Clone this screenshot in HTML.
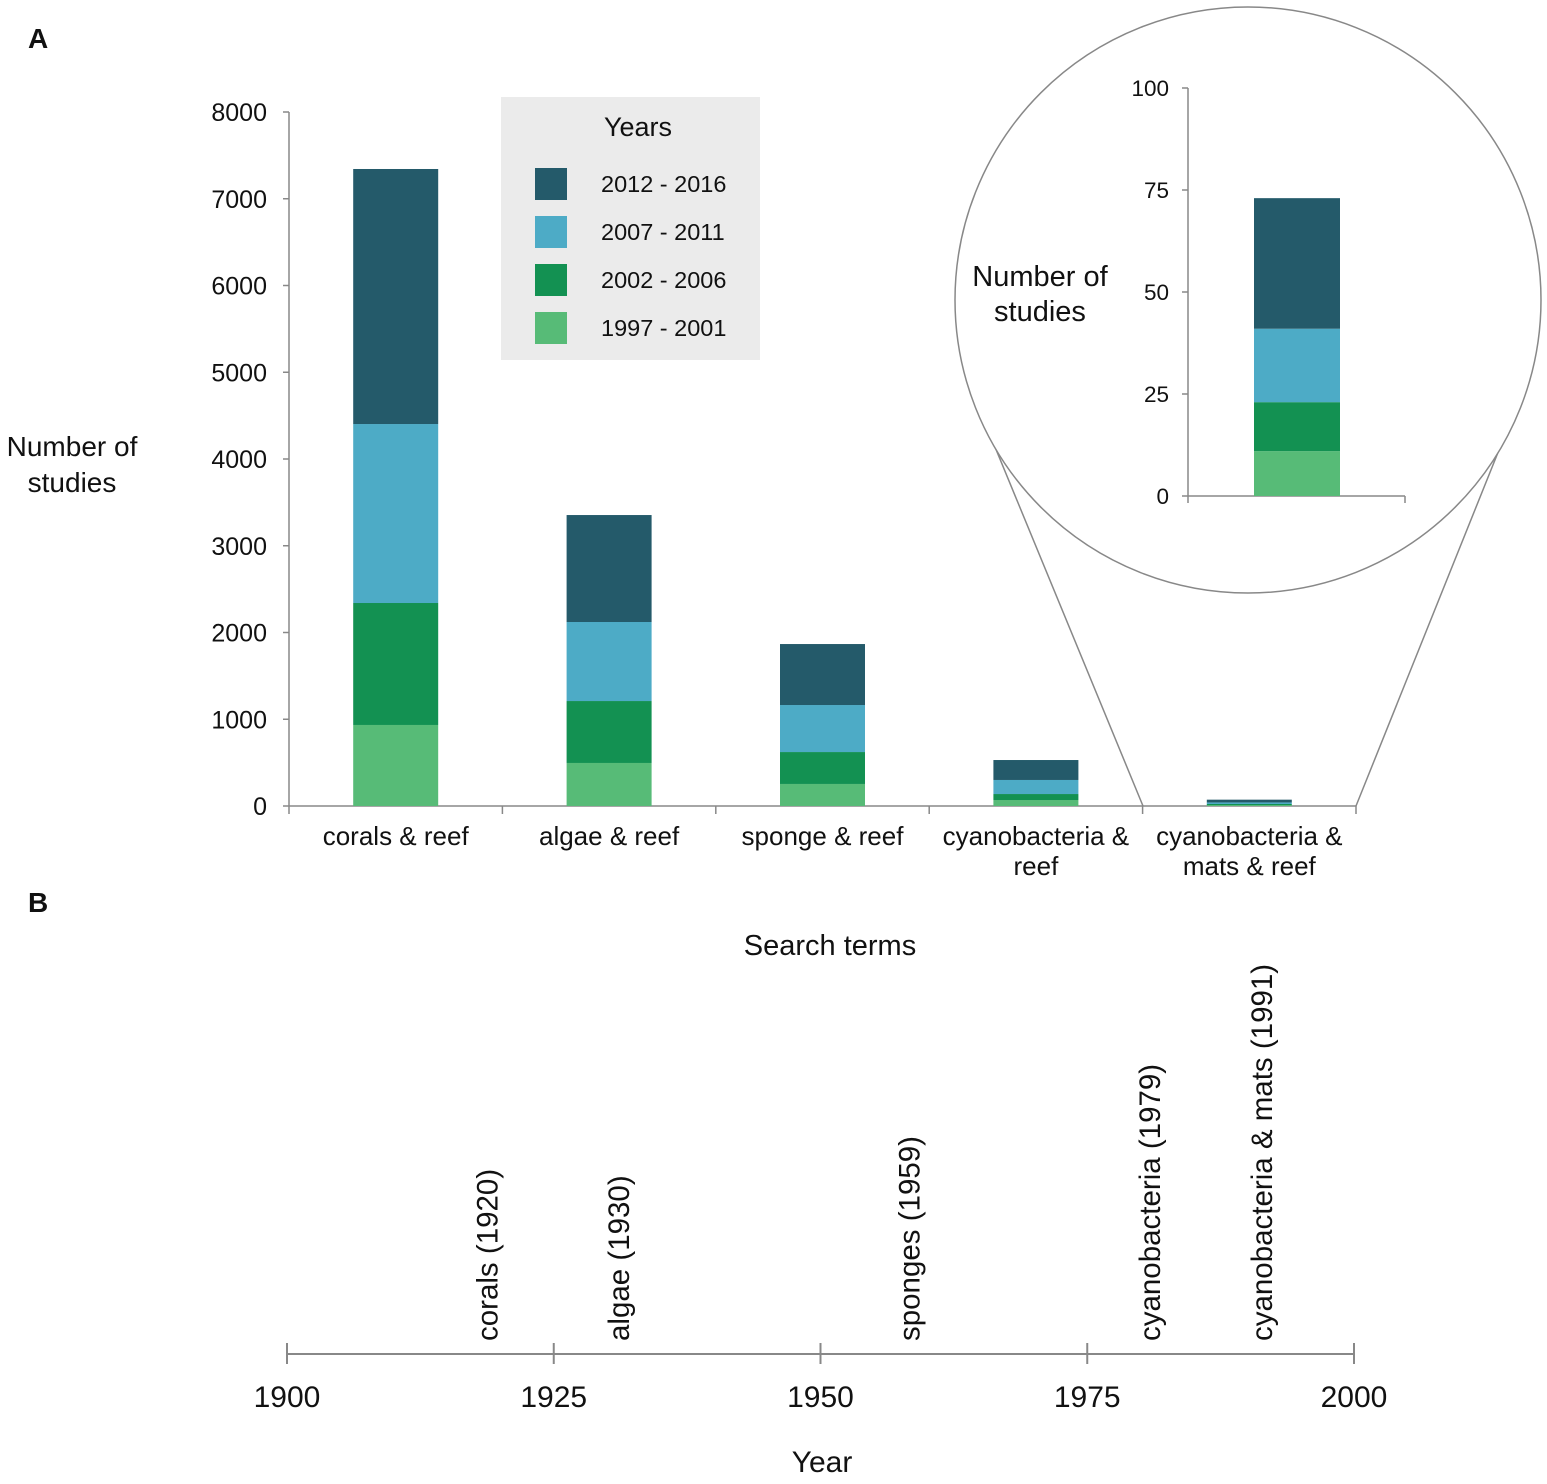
<!DOCTYPE html>
<html><head><meta charset="utf-8"><style>
body{margin:0;background:#fff;font-family:"Liberation Sans",Arial,sans-serif}
svg text{font-family:"Liberation Sans",Arial,sans-serif;fill:#111}
</style></head><body>
<svg id="c" width="1547" height="1479" viewBox="0 0 1547 1479" xmlns="http://www.w3.org/2000/svg">
<text x="28" y="48" font-size="28" font-weight="bold">A</text>
<text x="28" y="912" font-size="28" font-weight="bold">B</text>
<g id="main"></g>
<g id="inset"></g>
<g id="legend"></g>
<g id="timeline"></g>
</svg>
<script>
const categories=[["corals & reef"],["algae & reef"],["sponge & reef"],["cyanobacteria &","reef"],["cyanobacteria &","mats & reef"]];
const s1997=[934,496,254,69,11];
const s2002=[1406,714,368,69,12];
const s2007=[2063,911,542,162,18];
const s2012=[2940,1233,703,230,32];
const yTicks=[0,1000,2000,3000,4000,5000,6000,7000,8000];
const insetTicks=[0,25,50,75,100];
const seriesNames=["2012 - 2016","2007 - 2011","2002 - 2006","1997 - 2001"];
const colors=["#245a6a","#4dabc6","#139152","#57bb77"];
const tlYears=[1900,1925,1950,1975,2000];
const events=["corals (1920)","algae (1930)","sponges (1959)","cyanobacteria (1979)","cyanobacteria & mats (1991)"];
const eventYears=[1920,1930,1959,1979,1991];
const labelNudge=[-13,12,-7,20,4];

const NS="http://www.w3.org/2000/svg";
function mk(p,t,a,txt){const e=document.createElementNS(NS,t);for(const k in a)e.setAttribute(k,a[k]);if(txt!==undefined)e.textContent=txt;p.appendChild(e);return e;}
const main=document.getElementById('main');
const x0=289,x1=1356,yb=806,yt=112;
const y=v=>yb-(v/8000)*(yb-yt);
const bw=(x1-x0)/categories.length;
const xc=i=>x0+bw*(i+0.5);
mk(main,'line',{x1:x0,y1:yt,x2:x0,y2:yb,stroke:'#888','stroke-width':1.5});
mk(main,'line',{x1:x0,y1:yb,x2:x1,y2:yb,stroke:'#888','stroke-width':1.5});
yTicks.forEach(t=>{
 mk(main,'line',{x1:x0-6,y1:y(t),x2:x0,y2:y(t),stroke:'#888','stroke-width':1.5});
 const tx=mk(main,'text',{x:x0-22,y:y(t)+9,'font-size':25,'text-anchor':'end'},String(t));
 
 
});
for(let i=0;i<=categories.length;i++){mk(main,'line',{x1:x0+bw*i,y1:yb,x2:x0+bw*i,y2:yb+8,stroke:'#888','stroke-width':1.5});}
const stack=[s1997,s2002,s2007,s2012];const scol=[colors[3],colors[2],colors[1],colors[0]];
categories.forEach((c,i)=>{
 let cum=0;
 stack.forEach((s,k)=>{
  const r=mk(main,'rect',{x:xc(i)-42.5,y:y(cum+s[i]),width:85,height:y(cum)-y(cum+s[i]),fill:scol[k]});
  
  
  cum+=s[i];
 });
 c.forEach((ln,j)=>{const t=mk(main,'text',{x:xc(i),y:845+j*30,'font-size':26,'text-anchor':'middle'},ln);
  
  });
});
const yl=mk(main,'text',{x:72,y:456,'font-size':28,'text-anchor':'middle'},'Number of');

mk(main,'text',{x:72,y:492,'font-size':28,'text-anchor':'middle'},'studies');
const xt=mk(main,'text',{x:830,y:955,'font-size':29,'text-anchor':'middle'},'Search terms');


const lg=document.getElementById('legend');
mk(lg,'rect',{x:501,y:97,width:259,height:263,fill:'#ebebeb'});
mk(lg,'text',{x:638,y:136,'font-size':27,'text-anchor':'middle'},'Years');
seriesNames.forEach((n,k)=>{
 const r=mk(lg,'rect',{x:535,y:168+k*48,width:32,height:32,fill:colors[k]});
 
 const t=mk(lg,'text',{x:601,y:192+k*48,'font-size':23.5},n);
 
});

const ins=document.getElementById('inset');
mk(ins,'line',{x1:1143,y1:806,x2:988,y2:430,stroke:'#888','stroke-width':1.5});
mk(ins,'line',{x1:1356,y1:806,x2:1503,y2:440,stroke:'#888','stroke-width':1.5});
mk(ins,'circle',{cx:1248,cy:300,r:293,fill:'#fff',stroke:'#888','stroke-width':1.5});
const iy=v=>496-v/100*(496-88);
mk(ins,'line',{x1:1188,y1:88,x2:1188,y2:496,stroke:'#888','stroke-width':1.5});
mk(ins,'line',{x1:1188,y1:496,x2:1405,y2:496,stroke:'#888','stroke-width':1.5});
mk(ins,'line',{x1:1405,y1:496,x2:1405,y2:503,stroke:'#888','stroke-width':1.5});
mk(ins,'line',{x1:1188,y1:496,x2:1188,y2:503,stroke:'#888','stroke-width':1.5});
insetTicks.forEach(t=>{mk(ins,'line',{x1:1182,y1:iy(t),x2:1188,y2:iy(t),stroke:'#888','stroke-width':1.5});
 mk(ins,'text',{x:1169,y:iy(t)+8,'font-size':22.5,'text-anchor':'end'},String(t));});
let ic=0;const li=categories.length-1;
stack.forEach((s,k)=>{const r=mk(ins,'rect',{x:1254,y:iy(ic+s[li]),width:86,height:iy(ic)-iy(ic+s[li]),fill:scol[k]});
 ic+=s[li];});
mk(ins,'text',{x:1040,y:286,'font-size':29,'text-anchor':'middle'},'Number of');
mk(ins,'text',{x:1040,y:321,'font-size':29,'text-anchor':'middle'},'studies');

const tl=document.getElementById('timeline');
const tx=yr=>287+(yr-1900)/100*(1354-287);
mk(tl,'line',{x1:tx(1900),y1:1354,x2:tx(2000),y2:1354,stroke:'#888','stroke-width':2});
tlYears.forEach(yr=>{mk(tl,'line',{x1:tx(yr),y1:1343,x2:tx(yr),y2:1364,stroke:'#888','stroke-width':2});
 const t=mk(tl,'text',{x:tx(yr),y:1407,'font-size':30,'text-anchor':'middle'},String(yr));
 });
events.forEach((e,i)=>{const cx=tx(eventYears[i])+labelNudge[i];const bx=cx+10;
 const t=mk(tl,'text',{x:bx,y:1341,'font-size':29.5,transform:`rotate(-90 ${bx} 1341)`},e);
 });
const yt2=mk(tl,'text',{x:822,y:1472,'font-size':30,'text-anchor':'middle'},'Year');

</script>
</body></html>
